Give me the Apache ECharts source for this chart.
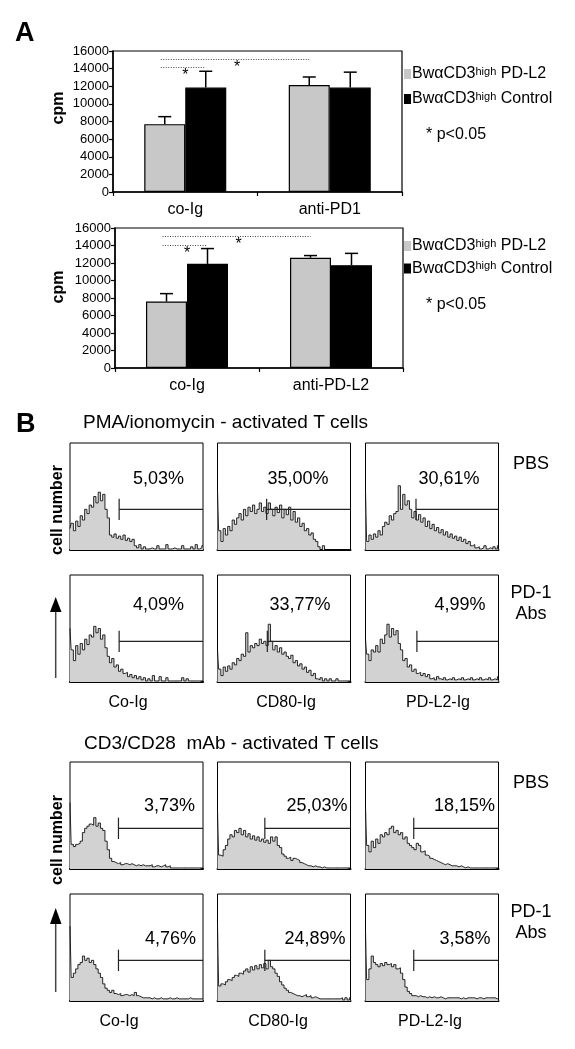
<!DOCTYPE html>
<html><head><meta charset="utf-8">
<script src="https://cdn.jsdelivr.net/npm/echarts@6/dist/echarts.min.js"></script>
<style>html,body{margin:0;padding:0;background:#fff}#c{width:575px;height:1049px}</style>
</head><body><div id="c"></div>
<script>
// ---------------- DATA ----------------
// Panel A (cpm)
const topCategories = ['co-Ig', 'anti-PD1'];
const bottomCategories = ['co-Ig', 'anti-PD-L2'];
const legendNames = ['PD-L2', 'Control'];
const topPDL2 = [7700, 12150];
const topPDL2Err = [850, 900];
const topControl = [11850, 11850];
const topControlErr = [1850, 1750];
const bottomPDL2 = [7600, 12600];
const bottomPDL2Err = [900, 250];
const bottomControl = [11900, 11750];
const bottomControlErr = [1750, 1350];
const cpmMin = 0, cpmMax = 16000, cpmStep = 2000;
// significance brackets: [fromCategory, fromSeries, toCategory, toSeries, level]
const topSig = [[0, 0, 1, 0, 15100], [0, 0, 0, 1, 14150]];
const bottomSig = [[0, 0, 1, 0, 15100], [0, 0, 0, 1, 14050]];
const pNote = '* p<0.05';

// Panel B (flow histograms, % of panel height per channel bin)
const histColumns = ['Co-Ig', 'CD80-Ig', 'PD-L2-Ig'];
const histRowNames = ['PBS', 'PD-1\nAbs'];
const sectionTitles = ['PMA/ionomycin - activated T cells', 'CD3/CD28  mAb - activated T cells'];
const pmaPbsCoIg   = [20,25,18,27,22,32,28,38,34,42,40,50,44,54,46,52,38,30,14,12,15,11,13,10,14,9,11,8,10,4,2,5,1,3,1,1,2,1,1,4,1,1,1,5,1,1,2,1,1,1,4,1,1,1,3,1,5,1,2,4];
const pmaPbsCd80   = [56,18,8,20,14,22,18,28,24,30,34,28,38,32,40,36,42,34,38,44,36,40,34,44,38,32,40,35,42,30,38,33,40,28,36,26,30,22,25,18,20,14,16,10,8,3,0,4,0,0,0,0,0,0,0,0,0,0,0,0];
const pmaPbsPdl2   = [56,8,14,10,15,12,18,14,22,26,24,32,28,34,36,60,38,52,42,46,38,30,36,28,33,26,30,22,27,20,24,18,21,16,19,14,17,12,15,11,13,9,12,8,10,6,8,4,5,2,3,1,2,4,1,2,1,3,1,4];
const pmaPd1CoIg   = [50,30,20,34,26,36,30,40,35,44,42,52,46,50,40,44,32,24,18,22,14,16,10,12,8,9,5,7,4,6,3,5,2,4,1,3,1,6,1,1,5,1,1,4,1,1,1,1,1,1,4,1,3,1,1,1,1,1,1,1];
const pmaPd1Cd80   = [30,12,6,14,10,15,12,18,16,22,20,26,24,46,28,34,32,36,34,40,36,38,34,54,38,30,34,28,32,26,28,24,22,25,18,20,15,17,12,14,9,11,6,8,3,2,4,1,3,1,3,1,1,3,1,1,1,1,1,1];
const pmaPd1Pdl2   = [40,26,20,30,28,34,28,40,36,44,54,42,50,44,48,36,30,20,22,14,16,10,12,8,9,6,8,5,7,3,4,2,5,3,2,4,2,3,2,4,2,3,2,4,2,3,2,4,2,3,2,4,2,3,2,4,2,3,2,5];
const cd3PbsCoIg   = [62,23,21,23,24,26,34,38,40,42,41,48,40,43,38,36,26,18,10,7,6,5,6,4,5,5,4,5,4,3,4,3,4,3,3,3,4,2,3,3,2,3,4,2,3,1,1,1,1,1,1,1,1,1,1,1,1,1,1,1];
const cd3PbsCd80   = [55,13,12,18,22,28,32,30,36,34,38,32,36,30,33,28,31,27,30,26,28,25,27,24,30,26,30,22,20,14,12,10,11,8,10,9,8,6,5,4,3,3,2,3,2,2,1,2,1,1,1,1,1,1,1,1,1,1,1,1];
const cd3PbsPdl2   = [58,22,16,26,20,28,24,32,30,34,32,38,40,34,36,32,34,28,30,24,22,20,18,24,22,16,17,13,12,10,9,8,7,6,5,4,5,4,3,3,3,2,3,2,1,2,1,1,1,1,1,1,1,1,1,1,1,1,1,1];
const cd3Pd1CoIg   = [70,22,26,30,34,36,42,38,40,36,38,34,30,26,22,16,12,10,8,10,7,6,7,5,6,6,5,6,5,8,5,4,3,3,3,3,2,3,2,2,3,2,2,2,3,2,2,3,2,2,2,2,2,3,2,2,2,2,2,2];
const cd3Pd1Cd80   = [72,14,16,15,18,20,19,22,24,23,26,25,28,30,27,32,29,33,30,34,31,35,30,38,32,30,26,23,18,15,12,10,8,7,6,5,5,4,5,6,4,5,3,4,3,2,2,2,2,2,2,2,2,2,2,3,1,3,1,3];
const cd3Pd1Pdl2   = [66,20,30,42,36,34,32,35,33,36,34,35,32,34,30,31,26,20,13,9,7,5,5,4,5,4,4,3,4,3,4,3,3,4,3,2,3,3,3,3,3,3,2,3,2,3,3,3,3,2,3,3,2,3,3,3,3,3,2,3];
const histograms = [
  [pmaPbsCoIg, pmaPbsCd80, pmaPbsPdl2],
  [pmaPd1CoIg, pmaPd1Cd80, pmaPd1Pdl2],
  [cd3PbsCoIg, cd3PbsCd80, cd3PbsPdl2],
  [cd3Pd1CoIg, cd3Pd1Cd80, cd3Pd1Pdl2]
];
const percentLabels = [
  ['5,03%', '35,00%', '30,61%'],
  ['4,09%', '33,77%', '4,99%'],
  ['3,73%', '25,03%', '18,15%'],
  ['4,76%', '24,89%', '3,58%']
];
// marker gate start (channel bin) per panel; gate level and tick span (% height)
const gateStart = [[21.8, 21.8, 22.4], [21.8, 22.1, 22.8], [21.5, 21.0, 21.4], [21.5, 21.0, 21.4]];
const gateLevel = 38, gateTickLow = 28, gateTickHigh = 48;

// ---------------- LAYOUT ----------------
const FONT = '"Liberation Sans", Arial, Helvetica, sans-serif';
const A_GRIDS = [{left: 113, top: 51, width: 289, height: 141}, {left: 115, top: 228, width: 288, height: 140}];
const BAR_W = 41, CAP_W = 13;
const BOX_LEFT = [70, 217.5, 365.5], BOX_W = 133, BOX_H = 107;
const ROW_TOP = [443, 575, 762, 894];
const PCT_PAD = [[19, 22, 19], [19, 20, 13], [8, 3, 3.5], [7, 5, 8]];
const PCT_DY = [36, 30, 44, 45];
const COL_LABEL_X = [[128, 286, 438], [119, 278, 430]];
const COL_LABEL_Y = [703, 1022];
const ROW_LABEL_X = 531;
const GRAY = '#c8c8c8', HIST_FILL = '#d2d2d2';

// ---------------- BUILD ----------------
const grid = [], xAxis = [], yAxis = [], series = [], graphic = [];

function text(x, y, str, size, opts) {
  opts = opts || {};
  const st = {text: str, fill: '#000', fontSize: size, fontFamily: FONT, fontWeight: opts.bold ? 'bold' : 'normal',
    align: opts.align || 'left', verticalAlign: 'middle', textAlign: opts.align || 'left', textVerticalAlign: 'middle'};
  const el = {type: 'text', x: x, y: y, style: st, silent: true};
  if (opts.rotation) el.rotation = opts.rotation;
  graphic.push(el);
}

// Panel A charts
const aSets = [
  {cats: topCategories, g: topPDL2, ge: topPDL2Err, b: topControl, be: topControlErr, sig: topSig},
  {cats: bottomCategories, g: bottomPDL2, ge: bottomPDL2Err, b: bottomControl, be: bottomControlErr, sig: bottomSig}
];
aSets.forEach((s, gi) => {
  const G = A_GRIDS[gi];
  grid.push({left: G.left, top: G.top, width: G.width, height: G.height, show: true, borderColor: '#000', borderWidth: 1.2, backgroundColor: 'transparent'});
  xAxis.push({gridIndex: gi, type: 'category', data: s.cats,
    axisLine: {lineStyle: {color: '#000', width: 1.5}},
    axisTick: {show: true, length: 4, lineStyle: {color: '#000', width: 1.2}},
    axisLabel: {color: '#000', fontSize: 16, fontFamily: FONT, margin: 10}});
  yAxis.push({gridIndex: gi, type: 'value', min: cpmMin, max: cpmMax, interval: cpmStep,
    axisLine: {show: true, lineStyle: {color: '#000', width: 1.5}},
    axisTick: {show: true, length: 4, lineStyle: {color: '#000', width: 1.2}},
    axisLabel: {color: '#000', fontSize: 13, fontFamily: FONT, margin: 4, formatter: v => String(v)},
    splitLine: {show: false}});
  [[s.g, GRAY], [s.b, '#000']].forEach((p, si) => {
    series.push({type: 'bar', name: legendNames[si], xAxisIndex: gi, yAxisIndex: gi, data: p[0], barWidth: BAR_W, barGap: '0%',
      itemStyle: {color: p[1], borderColor: '#000', borderWidth: 1.2}, silent: true, z: 2});
  });
  [[s.g, s.ge], [s.b, s.be]].forEach((p, si) => {
    series.push({type: 'custom', xAxisIndex: gi, yAxisIndex: gi, z: 3, silent: true,
      data: p[0].map((v, i) => [i, v, v + p[1][i]]),
      renderItem: (params, api) => {
        const c0 = api.coord([api.value(0), api.value(1)]);
        const c1 = api.coord([api.value(0), api.value(2)]);
        const x = c0[0] + (si === 0 ? -BAR_W / 2 : BAR_W / 2);
        return {type: 'group', children: [
          {type: 'line', shape: {x1: x, y1: c0[1], x2: x, y2: c1[1]}, style: {stroke: '#000', lineWidth: 1.5}},
          {type: 'line', shape: {x1: x - CAP_W / 2, y1: c1[1], x2: x + CAP_W / 2, y2: c1[1]}, style: {stroke: '#000', lineWidth: 1.5}}
        ]};
      }});
  });
  series.push({type: 'custom', xAxisIndex: gi, yAxisIndex: gi, z: 4, silent: true, data: s.sig,
    renderItem: (params, api) => {
      const lvl = api.value(4);
      const a = api.coord([api.value(0), lvl]);
      const b = api.coord([api.value(2), lvl]);
      const xa = a[0] + (api.value(1) === 0 ? -BAR_W / 2 : BAR_W / 2) - 4;
      const xb = b[0] + (api.value(3) === 0 ? -BAR_W / 2 : BAR_W / 2);
      const y = Math.round(a[1]) + 0.5;
      return {type: 'group', children: [
        {type: 'line', shape: {x1: xa, y1: y, x2: xb, y2: y}, style: {stroke: '#444', lineWidth: 1, lineDash: [1, 1.5]}},
        {type: 'text', x: (xa + xb) / 2 + 2, y: y + 0.5, style: {text: '*', fontSize: 16, fontFamily: FONT, fill: '#000', align: 'center', verticalAlign: 'top', textAlign: 'center', textVerticalAlign: 'top'}}
      ]};
    }});
});

// Histogram panels
histograms.forEach((row, r) => {
  row.forEach((vals, c) => {
    const gi = grid.length;
    grid.push({left: BOX_LEFT[c], top: ROW_TOP[r], width: BOX_W, height: BOX_H, show: true, borderColor: '#000', borderWidth: 1, backgroundColor: 'transparent'});
    xAxis.push({gridIndex: gi, type: 'value', min: 0, max: vals.length - 1,
      axisLine: {show: true, onZero: false, lineStyle: {color: '#000', width: 2}},
      axisTick: {show: false}, axisLabel: {show: false}, splitLine: {show: false}});
    yAxis.push({gridIndex: gi, type: 'value', min: 0, max: 100, show: false, splitLine: {show: false}});
    series.push({type: 'line', xAxisIndex: gi, yAxisIndex: gi, step: 'middle', symbol: 'none', silent: true,
      data: vals.map((v, i) => [i, v]),
      lineStyle: {color: '#111', width: 0.9}, areaStyle: {color: HIST_FILL, opacity: 1}, z: 2});
    series.push({type: 'custom', xAxisIndex: gi, yAxisIndex: gi, silent: true, z: 3,
      data: [[gateStart[r][c], gateLevel, gateTickLow, gateTickHigh, vals.length - 1]],
      renderItem: (params, api) => {
        const lo = api.coord([api.value(0), api.value(2)]);
        const hi = api.coord([api.value(0), api.value(3)]);
        const l = api.coord([api.value(0), api.value(1)]);
        const rr = api.coord([api.value(4), api.value(1)]);
        return {type: 'group', children: [
          {type: 'line', shape: {x1: lo[0], y1: lo[1], x2: hi[0], y2: hi[1]}, style: {stroke: '#222', lineWidth: 1.2}},
          {type: 'line', shape: {x1: l[0], y1: l[1], x2: rr[0], y2: rr[1]}, style: {stroke: '#222', lineWidth: 1.2}}
        ]};
      }});
    text(BOX_LEFT[c] + BOX_W - PCT_PAD[r][c], ROW_TOP[r] + PCT_DY[r], percentLabels[r][c], 18, {align: 'right'});
  });
});

// ---------------- TEXT / ANNOTATIONS ----------------
text(15, 34, 'A', 27, {bold: true});
text(16, 424.5, 'B', 27, {bold: true});

// cpm labels
text(58.5, 108, 'cpm', 16, {bold: true, align: 'center', rotation: Math.PI / 2});
text(58.5, 287, 'cpm', 16, {bold: true, align: 'center', rotation: Math.PI / 2});

// legends
[[74, 99, 135], [246, 268.5, 305]].forEach(ys => {
  [GRAY, '#000'].forEach((col, i) => {
    graphic.push({type: 'rect', shape: {x: 404, y: ys[i] - 5, width: 7, height: 10}, style: {fill: col}, silent: true});
    graphic.push({type: 'text', x: 412, y: ys[i], silent: true, style: {
      text: '{a|Bw\u03b1CD3}{b|high}{a| ' + legendNames[i] + '}', verticalAlign: 'middle', textVerticalAlign: 'middle',
      rich: {a: {fontSize: 16, fontFamily: FONT, fill: '#000', color: '#000'},
             b: {fontSize: 11, fontFamily: FONT, fill: '#000', color: '#000', verticalAlign: 'top'}}}});
  });
  text(426, ys[2], pNote, 16);
});

// section titles
text(83, 423, sectionTitles[0], 19);
text(84, 744, sectionTitles[1], 19);

// row labels
ROW_TOP.forEach((t, r) => {
  if (r % 2 === 0) {
    text(ROW_LABEL_X, t + 21, histRowNames[0], 18, {align: 'center'});
  } else {
    const parts = histRowNames[1].split('\n');
    text(ROW_LABEL_X, t + 18, parts[0], 18, {align: 'center'});
    text(ROW_LABEL_X, t + 39, parts[1], 18, {align: 'center'});
  }
});

// column labels
COL_LABEL_Y.forEach((y, s) => {
  histColumns.forEach((name, c) => text(COL_LABEL_X[s][c], y, name, 16, {align: 'center'}));
});

// cell number + arrows
[[510, 597, 612, 678], [840, 908, 924, 992]].forEach(a => {
  text(57.5, a[0], 'cell number', 16, {bold: true, align: 'center', rotation: Math.PI / 2});
  graphic.push({type: 'line', shape: {x1: 55.7, y1: a[2], x2: 55.7, y2: a[3]}, style: {stroke: '#444', lineWidth: 1.5}, silent: true});
  graphic.push({type: 'polygon', shape: {points: [[50, a[2]], [61.5, a[2]], [55.7, a[1]]]}, style: {fill: '#000'}, silent: true});
});

const chart = echarts.init(document.getElementById('c'), null, {renderer: 'canvas', width: 575, height: 1049});
chart.setOption({
  animation: false,
  backgroundColor: '#fff',
  textStyle: {fontFamily: FONT},
  grid: grid, xAxis: xAxis, yAxis: yAxis, series: series, graphic: graphic
});
</script></body></html>
